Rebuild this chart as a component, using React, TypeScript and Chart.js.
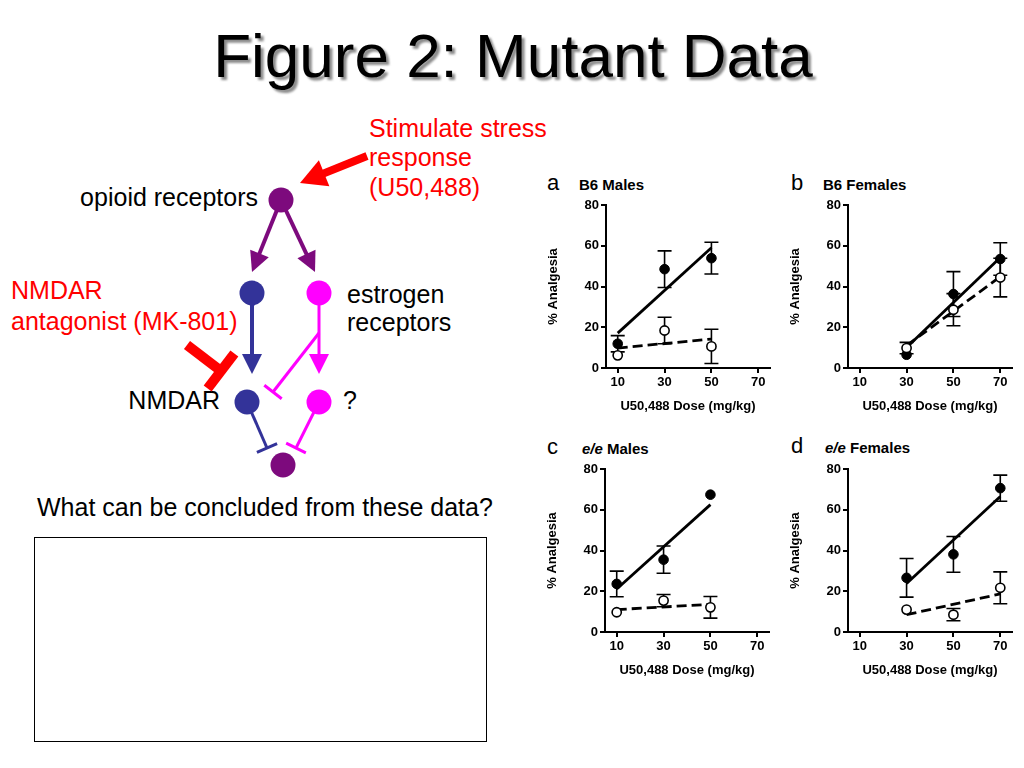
import React, { useEffect, useRef } from "react";
import { Chart, registerables } from "chart.js";

Chart.register(...registerables);

const FONT = "'Liberation Sans', Arial, Helvetica, sans-serif";

// ---- shared axis values ----
const doseTicks = [10, 30, 50, 70];
const yTicksMax = 80;
const xAxisTitle = "U50,488 Dose (mg/kg)";
const yAxisTitle = "% Analgesia";

// ---- panel a: B6 Males ----
const aDoses = [10, 30, 50];
const aFilled = [11.9, 48.5, 53.9];
const aFilledErr = [4.0, 9.0, 7.8];
const aOpen = [6.2, 18.4, 10.6];
const aOpenErr = [0, 6.5, 8.4];
const aFitDoses = [10, 50];
const aFitFilled = [17.1, 59.0];
const aFitOpen = [9.8, 14.2];

// ---- panel b: B6 Females ----
const bDoses = [30, 50, 70];
const bFilled = [6.5, 36.3, 53.5];
const bFilledErr = [0, 11.0, 8.0];
const bOpen = [9.8, 28.6, 44.4];
const bOpenErr = [2.8, 7.9, 9.5];
const bFitDoses = [30, 70];
const bFitFilled = [10.1, 54.2];
const bFitOpen = [11.0, 44.8];

// ---- panel c: e/e Males ----
const cDoses = [10, 30, 50];
const cFilled = [23.6, 35.5, 67.4];
const cFilledErr = [6.3, 6.7, 0];
const cOpen = [9.7, 15.4, 12.1];
const cOpenErr = [0, 3.0, 5.3];
const cFitDoses = [10, 50];
const cFitFilled = [21.1, 62.5];
const cFitOpen = [11.0, 13.6];

// ---- panel d: e/e Females ----
const dDoses = [30, 50, 70];
const dFilled = [26.6, 38.1, 70.6];
const dFilledErr = [9.5, 8.8, 6.4];
const dOpen = [11.0, 8.5, 21.7];
const dOpenErr = [0, 3.0, 7.8];
const dFitDoses = [30, 70];
const dFitFilled = [23.8, 66.5];
const dFitOpen = [8.5, 18.7];

type PanelProps = {
  left: number;
  top: number;
  doses: number[];
  filled: number[];
  filledErr: number[];
  open: number[];
  openErr: number[];
  fitDoses: number[];
  fitFilled: number[];
  fitOpen: number[];
};

const CW = 240;
const CH = 230;
const Y_W = 66;
const X_H = 52;

function Panel(p: PanelProps) {
  const ref = useRef<HTMLCanvasElement | null>(null);
  useEffect(() => {
    if (!ref.current) return;
    const groups = [
      { xs: p.doses, ys: p.filled, errs: p.filledErr },
      { xs: p.doses, ys: p.open, errs: p.openErr },
    ];
    const errPlugin = {
      id: "errbars",
      beforeDatasetsDraw(chart: any) {
        const { ctx } = chart;
        const x = chart.scales.x;
        const y = chart.scales.y;
        ctx.save();
        ctx.strokeStyle = "#000";
        ctx.lineWidth = 1.6;
        groups.forEach((g) =>
          g.xs.forEach((xv, i) => {
            if (!(g.errs[i] > 0)) return;
            const px = x.getPixelForValue(xv);
            const t = y.getPixelForValue(g.ys[i] + g.errs[i]);
            const b = y.getPixelForValue(g.ys[i] - g.errs[i]);
            ctx.beginPath();
            ctx.moveTo(px, t);
            ctx.lineTo(px, b);
            ctx.moveTo(px - 7, t);
            ctx.lineTo(px + 7, t);
            ctx.moveTo(px - 7, b);
            ctx.lineTo(px + 7, b);
            ctx.stroke();
          })
        );
        ctx.restore();
      },
    };
    const tickFont = { family: FONT, size: 13, weight: "bold" as const };
    const titleFont = { family: FONT, size: 13, weight: "bold" as const };
    const chart = new Chart(ref.current, {
      type: "scatter",
      data: {
        datasets: [
          {
            data: p.fitDoses.map((x, i) => ({ x, y: p.fitFilled[i] })),
            showLine: true,
            borderColor: "#000",
            borderWidth: 2.8,
            pointRadius: 0,
            order: 3,
          },
          {
            data: p.fitDoses.map((x, i) => ({ x, y: p.fitOpen[i] })),
            showLine: true,
            borderColor: "#000",
            borderWidth: 2.8,
            borderDash: [10, 5],
            pointRadius: 0,
            order: 2,
          },
          {
            data: p.doses.map((x, i) => ({ x, y: p.filled[i] })),
            pointRadius: 4.8,
            pointBackgroundColor: "#000",
            pointBorderColor: "#000",
            pointBorderWidth: 1,
            order: 1,
          },
          {
            data: p.doses.map((x, i) => ({ x, y: p.open[i] })),
            pointRadius: 4.6,
            pointBackgroundColor: "#fff",
            pointBorderColor: "#000",
            pointBorderWidth: 1.6,
            order: 0,
          },
        ],
      },
      options: {
        responsive: false,
        animation: false,
        devicePixelRatio: 1,
        layout: { padding: { top: 15, right: 10, left: 0, bottom: 0 } },
        plugins: { legend: { display: false }, tooltip: { enabled: false } },
        scales: {
          x: {
            type: "linear",
            min: 5,
            max: 75,
            afterBuildTicks: (s: any) => {
              s.ticks = doseTicks.map((v) => ({ value: v }));
            },
            afterFit: (s: any) => {
              s.height = X_H;
            },
            ticks: { color: "#000", font: tickFont, padding: 2, maxRotation: 0, autoSkip: false },
            grid: { drawOnChartArea: false, drawTicks: true, tickLength: 5, color: "#000", lineWidth: 2 },
            border: { color: "#000", width: 2 },
            title: { display: true, text: xAxisTitle, color: "#000", font: titleFont, padding: { top: 2, bottom: 6 } },
          },
          y: {
            min: 0,
            max: yTicksMax,
            afterFit: (s: any) => {
              s.width = Y_W;
            },
            ticks: { stepSize: 20, color: "#000", font: tickFont, padding: 2 },
            grid: { drawOnChartArea: false, drawTicks: true, tickLength: 5, color: "#000", lineWidth: 2 },
            border: { color: "#000", width: 2 },
            title: { display: true, text: yAxisTitle, color: "#000", font: titleFont, padding: { top: 6, bottom: 0 } },
          },
        },
      },
      plugins: [errPlugin],
    } as any);
    return () => chart.destroy();
  }, []);
  return (
    <canvas
      ref={ref}
      width={CW}
      height={CH}
      style={{ position: "absolute", left: p.left, top: p.top, width: CW, height: CH }}
    />
  );
}

function ArrowLine({ x1, y1, x2, y2, color, w, head, hw }: any) {
  const dx = x2 - x1;
  const dy = y2 - y1;
  const L = Math.hypot(dx, dy);
  const ux = dx / L;
  const uy = dy / L;
  const bx = x2 - ux * head;
  const by = y2 - uy * head;
  const px = -uy;
  const py = ux;
  return (
    <g>
      <line x1={x1} y1={y1} x2={bx + ux * 1} y2={by + uy * 1} stroke={color} strokeWidth={w} />
      <polygon
        points={`${x2},${y2} ${bx + px * hw},${by + py * hw} ${bx - px * hw},${by - py * hw}`}
        fill={color}
      />
    </g>
  );
}

function TLine({ x1, y1, x2, y2, color, w, bar, bw }: any) {
  const dx = x2 - x1;
  const dy = y2 - y1;
  const L = Math.hypot(dx, dy);
  const px = -dy / L;
  const py = dx / L;
  return (
    <g stroke={color} strokeWidth={w}>
      <line x1={x1} y1={y1} x2={x2} y2={y2} />
      <line x1={x2 + px * bar} y1={y2 + py * bar} x2={x2 - px * bar} y2={y2 - py * bar} strokeWidth={bw ?? w} />
    </g>
  );
}

const PURPLE = "#7d0a7d";
const BLUE = "#333399";
const MAGENTA = "#ff00ff";
const RED = "#ff0000";

export default function App() {
  return (
    <div
      style={{
        position: "fixed",
        left: 0,
        top: 0,
        width: 1024,
        height: 768,
        background: "#fff",
        overflow: "hidden",
        fontFamily: FONT,
      }}
    >
      <svg width={1024} height={768} style={{ position: "absolute", left: 0, top: 0 }} fontFamily={FONT}>
        <defs>
          <filter id="soft" x="-5%" y="-20%" width="110%" height="140%">
            <feGaussianBlur stdDeviation="1.2" />
          </filter>
        </defs>
        {/* title */}
        <text x={516} y={80} fontSize={62} textAnchor="middle" fill="#8c8c8c" filter="url(#soft)">
          Figure 2: Mutant Data
        </text>
        <text x={513} y={77} fontSize={62} textAnchor="middle" fill="#000">
          Figure 2: Mutant Data
        </text>

        {/* red stimulus text */}
        <g fill={RED} fontSize={25}>
          <text x={369} y={137}>Stimulate stress</text>
          <text x={369} y={166}>response</text>
          <text x={369} y={196}>(U50,488)</text>
          <text x={11} y={299}>NMDAR</text>
          <text x={11} y={330}>antagonist (MK-801)</text>
        </g>
        <g fill="#000" fontSize={25}>
          <text x={258} y={206} textAnchor="end">opioid receptors</text>
          <text x={347} y={303}>estrogen</text>
          <text x={347} y={331}>receptors</text>
          <text x={220} y={409} textAnchor="end">NMDAR</text>
          <text x={343} y={409}>?</text>
          <text x={37} y={516}>What can be concluded from these data?</text>
        </g>

        {/* red stimulus arrow */}
        <ArrowLine x1={367} y1={156} x2={300} y2={183} color={RED} w={8} head={26} hw={14} />

        {/* purple branches */}
        <ArrowLine x1={281} y1={200} x2={252} y2={272} color={PURPLE} w={4} head={20} hw={10} />
        <ArrowLine x1={281} y1={200} x2={315} y2={272} color={PURPLE} w={4} head={20} hw={10} />

        {/* vertical arrows */}
        <ArrowLine x1={252} y1={293} x2={252} y2={374} color={BLUE} w={4} head={20} hw={10} />
        <ArrowLine x1={319} y1={293} x2={319} y2={374} color={MAGENTA} w={3} head={20} hw={10} />

        {/* magenta inhibition to NMDAR */}
        <TLine x1={319} y1={333} x2={273} y2={392} color={MAGENTA} w={3} bar={11} />

        {/* red antagonist T */}
        <TLine x1={187} y1={345} x2={221} y2={371} color={RED} w={10} bar={22} />

        {/* bottom inhibitions */}
        <TLine x1={247} y1={402} x2={267} y2={448} color={BLUE} w={3} bar={11} />
        <TLine x1={319} y1={402} x2={296} y2={448} color={MAGENTA} w={3} bar={11} />

        {/* nodes */}
        <circle cx={281} cy={200} r={12.5} fill={PURPLE} />
        <circle cx={252} cy={293} r={12.5} fill={BLUE} />
        <circle cx={319} cy={293} r={12.5} fill={MAGENTA} />
        <circle cx={247} cy={402} r={12.5} fill={BLUE} />
        <circle cx={319} cy={402} r={12.5} fill={MAGENTA} />
        <circle cx={283} cy={465} r={12.5} fill={PURPLE} />

        {/* answer box */}
        <rect x={34.5} y={537.5} width={452} height={204} fill="none" stroke="#000" strokeWidth={1} />

        {/* panel labels */}
        <g fill="#000">
          <text x={547} y={190} fontSize={22}>a</text>
          <text x={579} y={190} fontSize={15} fontWeight="bold">B6 Males</text>
          <text x={791} y={190} fontSize={22}>b</text>
          <text x={823} y={190} fontSize={15} fontWeight="bold">B6 Females</text>
          <text x={547} y={454} fontSize={22}>c</text>
          <text x={582} y={454} fontSize={15} fontWeight="bold">
            <tspan fontStyle="italic">e/e</tspan> Males
          </text>
          <text x={791} y={453} fontSize={22}>d</text>
          <text x={825} y={453} fontSize={15} fontWeight="bold">
            <tspan fontStyle="italic">e/e</tspan> Females
          </text>
        </g>
      </svg>

      <Panel
        left={540}
        top={190}
        doses={aDoses}
        filled={aFilled}
        filledErr={aFilledErr}
        open={aOpen}
        openErr={aOpenErr}
        fitDoses={aFitDoses}
        fitFilled={aFitFilled}
        fitOpen={aFitOpen}
      />
      <Panel
        left={782}
        top={190}
        doses={bDoses}
        filled={bFilled}
        filledErr={bFilledErr}
        open={bOpen}
        openErr={bOpenErr}
        fitDoses={bFitDoses}
        fitFilled={bFitFilled}
        fitOpen={bFitOpen}
      />
      <Panel
        left={539}
        top={454}
        doses={cDoses}
        filled={cFilled}
        filledErr={cFilledErr}
        open={cOpen}
        openErr={cOpenErr}
        fitDoses={cFitDoses}
        fitFilled={cFitFilled}
        fitOpen={cFitOpen}
      />
      <Panel
        left={782}
        top={454}
        doses={dDoses}
        filled={dFilled}
        filledErr={dFilledErr}
        open={dOpen}
        openErr={dOpenErr}
        fitDoses={dFitDoses}
        fitFilled={dFitFilled}
        fitOpen={dFitOpen}
      />
    </div>
  );
}
